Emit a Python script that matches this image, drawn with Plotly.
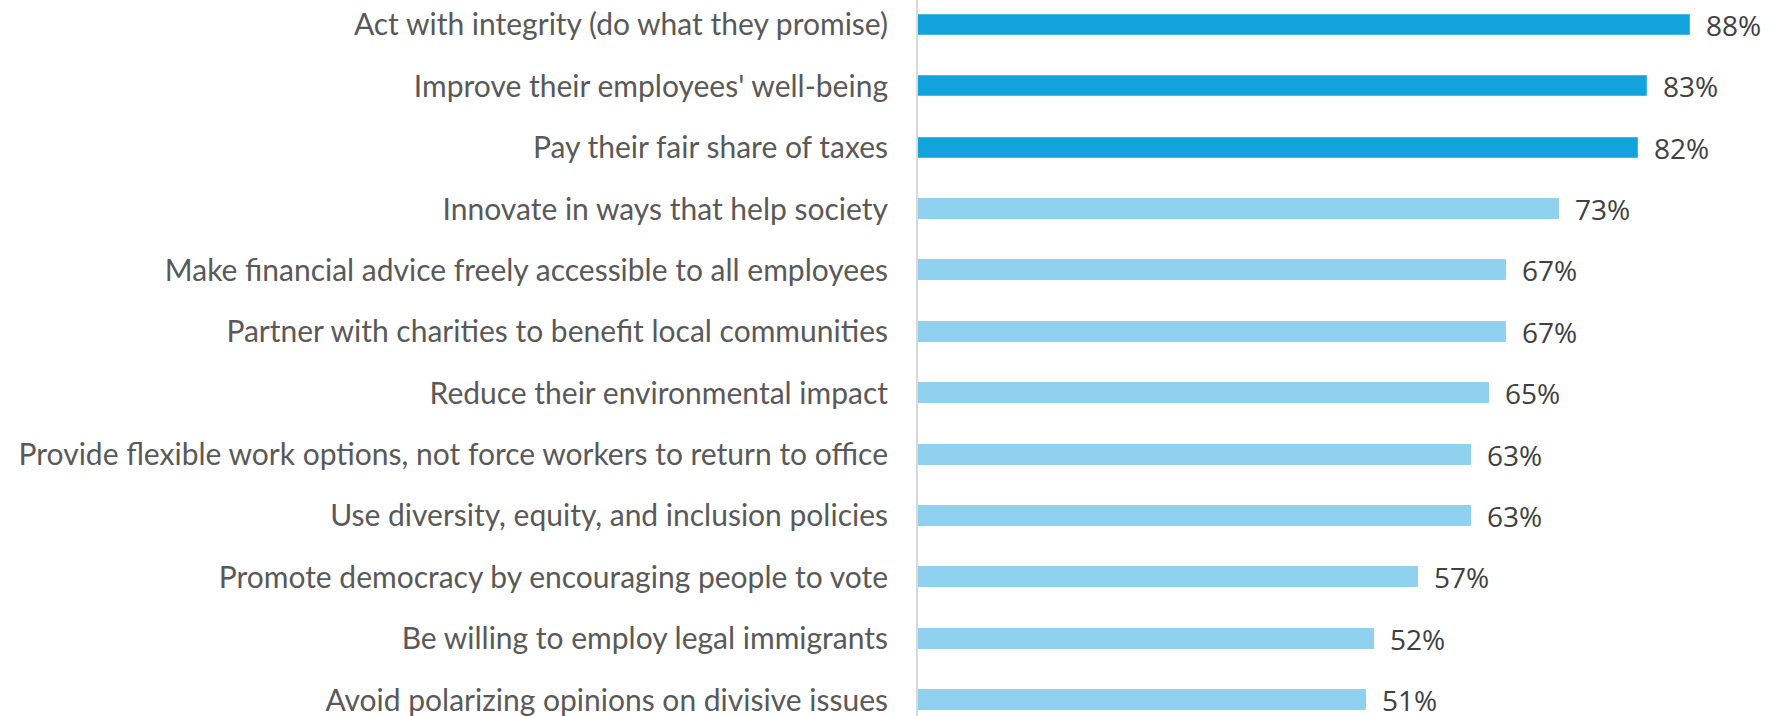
import plotly.graph_objects as go

# Survey items, top to bottom
categories = [
    "Act with integrity (do what they promise)",
    "Improve their employees' well-being",
    "Pay their fair share of taxes",
    "Innovate in ways that help society",
    "Make financial advice freely accessible to all employees",
    "Partner with charities to benefit local communities",
    "Reduce their environmental impact",
    "Provide flexible work options, not force workers to return to office",
    "Use diversity, equity, and inclusion policies",
    "Promote democracy by encouraging people to vote",
    "Be willing to employ legal immigrants",
    "Avoid polarizing opinions on divisive issues",
]
values = [88, 83, 82, 73, 67, 67, 65, 63, 63, 57, 52, 51]
highlighted = [True, True, True, False, False, False, False, False, False, False, False, False]

DARK = "#12a3dd"
DARK_EDGE = "#45b8e6"
LIGHT = "#8fd1ef"

bar_colors = [DARK if h else LIGHT for h in highlighted]
edge_colors = [DARK_EDGE if h else LIGHT for h in highlighted]

fig = go.Figure(
    go.Bar(
        x=values,
        y=categories,
        orientation="h",
        width=0.326,
        marker=dict(color=bar_colors, line=dict(color=edge_colors, width=1)),
        hoverinfo="skip",
    )
)

# Percent labels just past the end of each bar
for cat, v in zip(categories, values):
    fig.add_annotation(
        x=v, y=cat, text=f"{v}%", showarrow=False,
        xanchor="left", yanchor="middle", xshift=14,
        font=dict(family="Open Sans", size=28, color="#404040"),
    )

n = len(categories)
fig.update_layout(
    width=1775, height=716,
    margin=dict(l=918, r=67, t=0, b=0),
    plot_bgcolor="white", paper_bgcolor="white",
    showlegend=False,
    bargap=0,
    xaxis=dict(range=[0, 90], visible=False, fixedrange=True),
    yaxis=dict(
        type="category",
        categoryorder="array", categoryarray=categories,
        range=[n - 1 + 0.26, -0.407],
        showline=True, linecolor="#d9d9d9", linewidth=2,
        showgrid=False, zeroline=False,
        ticks="", ticklabelstandoff=22,
        tickfont=dict(family="Lato", size=30, color="#595959"),
    ),
)

fig.write_html("out.html")
